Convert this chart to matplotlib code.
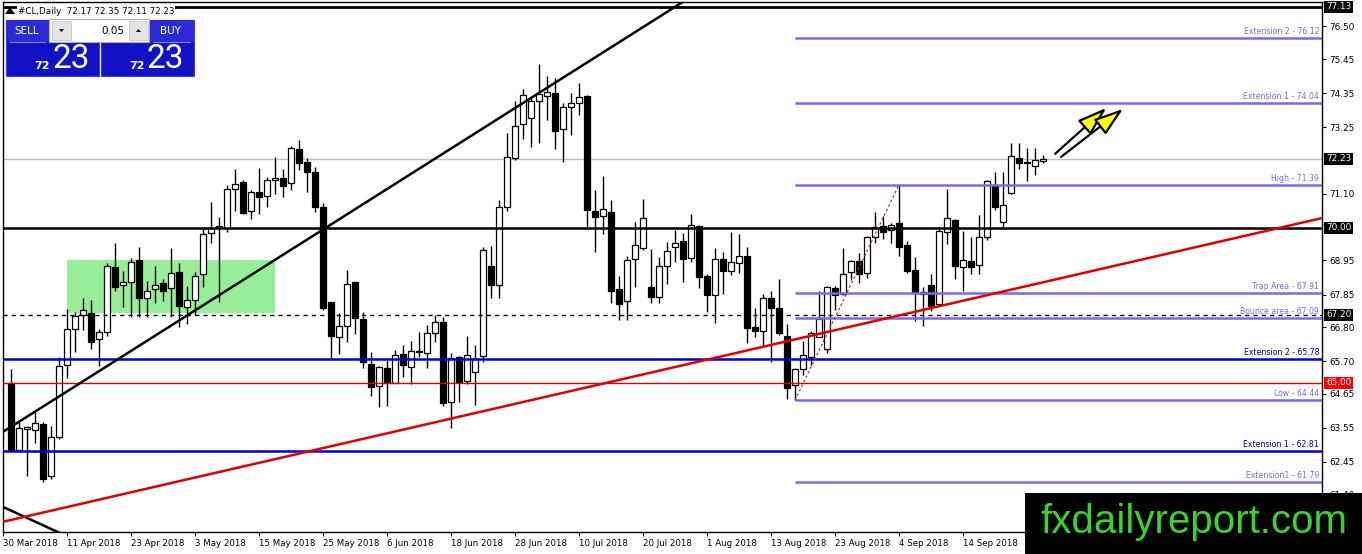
import numpy as np
import matplotlib.pyplot as plt
from matplotlib.patches import Rectangle, Polygon, FancyArrowPatch
from matplotlib.transforms import blended_transform_factory

# daily candles #CL (bar 0 = 2 Apr 2018)
opens = [65.00, 62.85, 63.50, 63.48, 63.68, 62.00, 63.27, 65.58, 66.73, 67.19,
         67.25, 66.41, 66.63, 68.73, 68.15, 68.27, 68.97, 67.73, 68.02, 68.22,
         68.05, 68.57, 67.44, 67.66, 68.52, 69.85, 70.00, 69.99, 71.25, 71.47,
         70.54, 71.15, 71.03, 71.56, 71.60, 71.46, 72.54, 72.12, 71.82, 70.67,
         67.60, 66.47, 66.84, 68.24, 67.05, 65.60, 64.90, 65.47, 65.01, 65.93,
         65.50, 66.00, 65.98, 66.60, 66.97, 64.37, 65.84, 65.07, 65.36, 65.87,
         68.77, 68.16, 70.69, 72.25, 73.35, 73.54, 74.08, 74.26, 74.34, 73.18,
         73.89, 74.04, 74.26, 70.56, 70.37, 70.52, 68.02, 67.63, 68.99, 69.34,
         68.09, 67.78, 68.77, 69.37, 69.58, 69.02, 70.06, 68.45, 67.84, 68.99,
         68.62, 68.88, 69.10, 66.80, 66.69, 67.73, 67.41, 66.52, 64.93, 65.44,
         65.85, 66.49, 66.09, 68.05, 67.87, 68.59, 68.94, 68.54, 69.70, 70.06,
         69.94, 70.15, 69.45, 68.65, 67.92, 68.16, 67.55, 69.88, 70.26, 68.75,
         68.94, 68.81, 69.70, 71.39, 70.20, 71.14, 72.25, 72.12, 71.99, 72.17]
highs = [65.45, 63.80, 63.60, 64.07, 63.75, 63.60, 65.85, 67.40, 67.30, 67.73,
         67.68, 66.73, 68.88, 69.53, 68.62, 69.02, 69.38, 68.30, 68.77, 68.35,
         69.35, 68.86, 68.13, 68.59, 70.00, 70.85, 70.36, 71.40, 71.89, 71.55,
         71.23, 71.94, 71.64, 72.30, 71.89, 72.63, 72.84, 72.25, 71.96, 70.80,
         67.60, 67.27, 68.63, 68.26, 67.29, 66.00, 65.54, 65.79, 66.06, 66.22,
         66.36, 66.65, 66.87, 67.18, 67.12, 65.95, 65.87, 66.51, 66.22, 69.40,
         69.42, 70.90, 73.05, 74.08, 74.48, 74.24, 75.29, 74.90, 74.85, 74.04,
         74.34, 74.69, 74.29, 71.23, 71.68, 70.90, 68.45, 69.08, 70.20, 70.95,
         69.31, 69.05, 69.56, 69.94, 69.83, 70.45, 70.08, 68.52, 69.34, 69.24,
         69.88, 69.81, 69.40, 67.41, 67.87, 67.98, 68.34, 66.90, 65.47, 66.36,
         66.66, 67.95, 68.13, 68.13, 69.34, 68.97, 69.18, 69.74, 70.53, 70.38,
         70.15, 71.39, 69.59, 69.05, 68.11, 68.52, 69.96, 71.25, 70.28, 69.91,
         69.72, 70.42, 71.55, 71.79, 71.82, 72.75, 72.75, 72.57, 72.57, 72.35]
lows = [62.80, 62.80, 62.00, 63.05, 61.80, 61.90, 63.18, 65.15, 66.00, 66.71,
        66.09, 65.53, 66.52, 67.95, 67.44, 67.12, 67.12, 67.12, 67.59, 67.63,
        67.14, 66.82, 66.90, 67.19, 68.11, 69.51, 67.62, 69.88, 70.56, 70.45,
        70.28, 70.45, 70.67, 71.10, 71.01, 71.23, 71.87, 71.17, 70.53, 67.35,
        65.80, 65.94, 66.33, 66.57, 65.47, 64.57, 64.22, 64.26, 64.99, 65.20,
        64.96, 65.85, 65.47, 66.33, 64.24, 63.54, 64.37, 64.98, 64.29, 65.69,
        67.73, 67.73, 70.56, 72.20, 72.87, 72.60, 72.75, 73.48, 72.54, 72.14,
        72.99, 73.65, 70.04, 69.21, 69.80, 67.57, 67.03, 67.03, 68.10, 69.30,
        67.57, 67.57, 68.19, 68.91, 68.24, 68.91, 68.05, 67.30, 66.92, 67.87,
        68.49, 68.54, 66.30, 66.49, 66.17, 65.68, 66.55, 64.47, 64.44, 65.25,
        65.58, 66.47, 65.96, 67.35, 67.84, 68.32, 68.22, 68.38, 69.53, 69.63,
        69.53, 69.08, 68.55, 67.00, 66.84, 67.33, 67.50, 69.48, 68.34, 67.95,
        68.52, 68.52, 69.62, 70.58, 69.99, 71.10, 71.90, 71.50, 71.71, 72.11]
closes = [62.85, 63.55, 63.57, 63.70, 61.90, 63.25, 65.55, 66.73, 67.16, 67.35,
          66.33, 66.63, 68.77, 68.11, 68.25, 68.91, 67.73, 67.98, 68.15, 67.95,
          68.56, 67.47, 67.66, 68.46, 69.81, 69.99, 70.05, 71.25, 71.42, 70.49,
          71.16, 70.99, 71.55, 71.60, 71.36, 72.58, 72.09, 71.82, 70.67, 67.41,
          66.50, 66.85, 68.20, 67.08, 65.68, 64.86, 65.50, 65.01, 65.90, 65.58,
          66.04, 66.04, 66.60, 66.97, 64.34, 65.79, 65.04, 65.90, 65.76, 69.29,
          68.16, 70.66, 72.30, 73.29, 74.29, 74.08, 74.31, 74.40, 73.14, 73.89,
          74.02, 74.21, 70.58, 70.34, 70.60, 67.98, 67.55, 68.97, 69.46, 70.31,
          67.78, 68.77, 69.26, 69.53, 68.99, 70.10, 68.41, 67.84, 68.99, 68.62,
          68.89, 69.10, 66.76, 66.69, 67.73, 67.41, 66.60, 64.85, 65.44, 65.90,
          66.62, 67.05, 68.11, 67.84, 68.52, 68.94, 68.52, 69.70, 70.04, 69.88,
          70.11, 69.38, 68.62, 67.90, 67.87, 67.48, 69.90, 70.31, 68.77, 68.97,
          68.75, 69.72, 71.50, 70.69, 70.75, 72.32, 72.09, 72.09, 72.18, 72.23]

date_labels = ['30 Mar 2018', '11 Apr 2018', '23 Apr 2018', '3 May 2018', '15 May 2018',
               '25 May 2018', '6 Jun 2018', '18 Jun 2018', '28 Jun 2018', '10 Jul 2018',
               '20 Jul 2018', '1 Aug 2018', '13 Aug 2018', '23 Aug 2018', '4 Sep 2018',
               '14 Sep 2018']
date_bars = [-1, 7, 15, 23, 31, 39, 47, 55, 63, 71, 79, 87, 95, 103, 111, 119]

price_ticks = [61.40, 62.45, 63.55, 64.65, 65.70, 66.80, 67.85, 68.95,
               71.10, 73.25, 74.35, 75.45, 76.50]

# objects drawn on the chart
fibo_levels = [76.12, 74.04, 71.39, 67.91, 67.09, 64.44, 61.79]
fibo_names = ['Extension 2 - 76.12', 'Extension 1 - 74.04', 'High - 71.39',
              'Trap Area - 67.91', 'Bounce area - 67.09', 'Low - 64.44',
              'Extension1 - 61.79']
fibo_start = 98
blue_levels = [65.78, 62.81]
blue_names = ['Extension 2 - 65.78', 'Extension 1 - 62.81']
box_zone = [7, 33, 67.26, 68.97]          # bar from, bar to, price low, price high
trend_black = [(-1, 63.42), (83.6, 77.23)]
trend_black2 = [(-1, 61.00), (5.5, 60.23)]
trend_red = [(-1, 60.52), (163.9, 70.32)]
arrows = [((130.5, 72.39), (136.9, 73.87)), ((131.25, 72.29), (139.0, 73.84))]
bid = 72.23
axis_boxes = [(77.13, 'black'), (72.23, 'black'), (70.00, 'black'),
              (67.20, 'black'), (65.00, 'red')]

purple = '#7b68ee'
blue = '#0000cd'

W, H = 1362, 554
fig = plt.figure(figsize=(W/100, H/100), dpi=100)
fig.patch.set_facecolor('white')
ax = fig.add_axes([3/W, 1-532/H, 1319/W, 530/H])
ax.set_xlim(-1, 163.875)
ax.set_ylim(60.19, 77.29)

o = np.array(opens); h = np.array(highs); l = np.array(lows); c = np.array(closes)
x = np.arange(len(o))
up = c >= o
ax.vlines(x, l, h, color='black', lw=1, zorder=3)
body_lo = np.minimum(o, c)
body_h = np.maximum(np.abs(c - o), 0.03)
ax.bar(x[up], body_h[up], bottom=body_lo[up], width=0.7, facecolor='white',
       edgecolor='black', lw=0.9, zorder=4)
ax.bar(x[~up], body_h[~up], bottom=body_lo[~up], width=0.7, facecolor='black',
       edgecolor='black', lw=0.9, zorder=4)

# green zone behind the candles
ax.add_patch(Rectangle((box_zone[0], box_zone[2]), box_zone[1]-box_zone[0],
                       box_zone[3]-box_zone[2], facecolor='#98ee98', edgecolor='none', zorder=1))

# horizontal levels
ax.axhline(70.00, color='black', lw=1.8, zorder=5)
ax.axhline(77.13, color='black', lw=2, zorder=5)
ax.axhline(bid, color='#c0c0c0', lw=1, zorder=2)
ax.axhline(65.00, color='#e00000', lw=1, zorder=5)
ax.axhline(67.20, color='black', lw=1, ls=(0, (3, 3)), zorder=5)
for lv in blue_levels:
    ax.axhline(lv, color=blue, lw=1.8, zorder=5)
ax.hlines(fibo_levels, fibo_start, 163.875, color=purple, lw=1.8, zorder=5)

tr = blended_transform_factory(ax.transAxes, ax.transData)
for lv, nm in zip(fibo_levels, fibo_names):
    ax.annotate(nm, xy=(1, lv), xycoords=tr, xytext=(-2, 1.5), textcoords='offset points',
                ha='right', va='bottom', fontsize=5.6, color=purple, zorder=6)
for lv, nm in zip(blue_levels, blue_names):
    ax.annotate(nm, xy=(1, lv), xycoords=tr, xytext=(-2, 1.5), textcoords='offset points',
                ha='right', va='bottom', fontsize=5.6, color='#0000a0', zorder=6)

# trendlines
for pts, col, lw in [(trend_black, 'black', 1.8), (trend_black2, 'black', 1.8),
                     (trend_red, '#e00000', 1.8)]:
    (x0, y0), (x1, y1) = pts
    k = (y1 - y0) / (x1 - x0)
    xs = np.array([-1, 163.875])
    ax.plot(xs, y0 + k*(xs - x0), color=col, lw=lw, zorder=5, solid_capstyle='butt')

# fibo dotted line low -> high
ax.plot([fibo_start, 111], [lows[fibo_start], highs[111]], color='#b03030', lw=0.9,
        ls=(0, (2, 2)), zorder=5)

for (p0, p1) in arrows:
    ax.add_patch(FancyArrowPatch(p0, p1, arrowstyle='-|>,head_length=1.8,head_width=0.6',
                                 mutation_scale=10, lw=1.6, edgecolor='black',
                                 facecolor='#ffff00', zorder=6, shrinkA=0, shrinkB=0))

# axes styling
for s in ax.spines.values():
    s.set_color('black'); s.set_linewidth(1)
ax.yaxis.tick_right()
ax.set_yticks(price_ticks)
ax.set_yticklabels([f'{v:.2f}' for v in price_ticks])
ax.tick_params(axis='y', direction='out', length=3, pad=2, labelsize=6.4, colors='black')
ax.set_xticks(date_bars)
ax.set_xticklabels(date_labels, ha='left')
ax.tick_params(axis='x', direction='out', length=3, pad=2, labelsize=6.2)

for lv, col in axis_boxes:
    ax.text(1.003, lv, f'{lv:.2f}', transform=tr, ha='left', va='center', fontsize=6.4,
            color='white', zorder=7, clip_on=False,
            bbox=dict(boxstyle='square,pad=0.18', facecolor=col, edgecolor='none'))

# overlay in pixel coords: header, trade panel, watermark
ov = fig.add_axes([0, 0, 1, 1], zorder=10)
ov.set_xlim(0, W); ov.set_ylim(H, 0); ov.axis('off'); ov.patch.set_alpha(0)

ov.add_patch(Polygon([[5, 14], [10, 7], [15, 14]], closed=True, facecolor='black'))
ov.text(18, 11, '#CL,Daily  72.17 72.35 72.11 72.23', fontsize=6.3, va='center', ha='left',
        bbox=dict(boxstyle='square,pad=0.1', facecolor='white', edgecolor='none'))

for x0 in (6, 101):
    ov.add_patch(Rectangle((x0, 20), 93, 56, facecolor='#1212c4', edgecolor='#4040e8', lw=0.8))
    ov.add_patch(Rectangle((x0, 20), 93, 22, facecolor='#2a2ad6', edgecolor='none'))
ov.plot([10, 45], [42, 42], color='#8080ff', lw=0.8)
ov.plot([153, 190], [42, 42], color='#8080ff', lw=0.8)
ov.add_patch(Rectangle((49, 19), 100, 23, facecolor='white', edgecolor='#b0b0b0', lw=0.8))
for bx in (52, 129):
    ov.add_patch(Rectangle((bx, 21), 19, 19, facecolor='#e4e4e4', edgecolor='#c8c8c8', lw=0.6))
ov.add_patch(Polygon([[59, 29], [64, 29], [61.5, 32]], closed=True, facecolor='black'))
ov.add_patch(Polygon([[136, 32], [141, 32], [138.5, 29]], closed=True, facecolor='black'))
ov.text(124, 30.5, '0.05', fontsize=7.5, ha='right', va='center')
ov.text(27, 30.5, 'SELL', fontsize=7.5, ha='center', va='center', color='white')
ov.text(170, 30.5, 'BUY', fontsize=7.5, ha='center', va='center', color='white')
for x0 in (6, 101):
    ov.text(x0 + 46, 59, '23', fontsize=24, ha='left', va='center', color='white',
            family='Roboto')
    ov.text(x0 + 44, 66, '72', fontsize=8, ha='right', va='center', color='white',
            weight='bold')

ov.add_patch(Rectangle((1025, 493), W - 1025, H - 493, facecolor='black', edgecolor='none'))
ov.text(1194, 522, 'fxdailyreport.com', fontsize=29, family='Liberation Sans',
        color='#39d42a', ha='center', va='center')

fig.savefig('out.png', dpi=100)
